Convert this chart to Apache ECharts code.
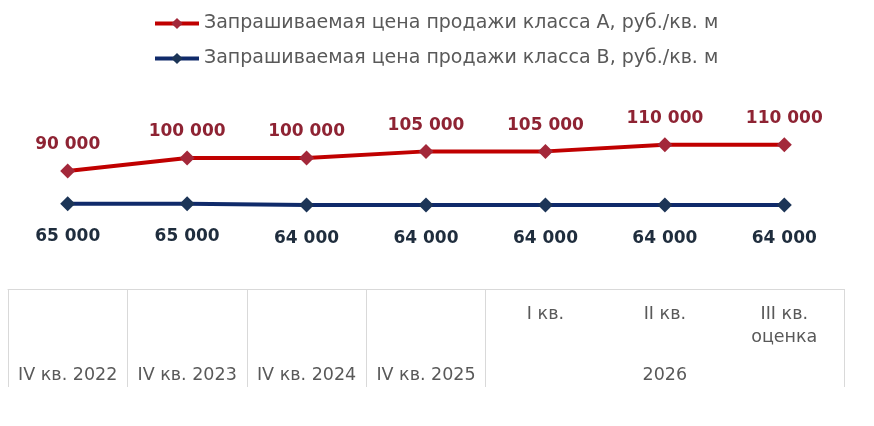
<!DOCTYPE html>
<html>
<head>
<meta charset="utf-8">
<script src="https://cdn.jsdelivr.net/npm/echarts@6/dist/echarts.min.js"></script>
<style>
  html, body { margin: 0; padding: 0; background: #fff; }
  #main { width: 874px; height: 426px; }
</style>
</head>
<body>
<div id="main"></div>
<script>
    // данные
    var categories = ['IV кв. 2022', 'IV кв. 2023', 'IV кв. 2024', 'IV кв. 2025', 'I кв.', 'II кв.', 'III кв.\nоценка'];
    var groupYear = '2026';       // подпись группы под I–III кв.
    var groupStart = 4;           // с какой категории начинается группа
    var groupLabelAt = 5;         // где стоит подпись группы
    var nameA = 'Запрашиваемая цена продажи класса А, руб./кв. м';
    var nameB = 'Запрашиваемая цена продажи класса В, руб./кв. м';
    var classA = [90000, 100000, 100000, 105000, 105000, 110000, 110000];
    var classB = [65000, 65000, 64000, 64000, 64000, 64000, 64000];

    function fmt(v) {
        return String(v).replace(/\B(?=(\d{3})+(?!\d))/g, ' ');
    }

    var myChart = echarts.init(document.getElementById('main'));
    var option = {
        animation: false,
        backgroundColor: '#fff',
        legend: {
            orient: 'vertical',
            left: 148,
            top: 9,
            itemWidth: 44,
            itemHeight: 14,
            itemGap: 16,
            lineStyle: { width: 4 },
            textStyle: { color: '#595959', fontSize: 19, fontFamily: 'DejaVu Sans' },
            data: [nameA, nameB]
        },
        grid: { left: 8, right: 30, top: 105.5, bottom: 137 },
        xAxis: [
            {
                type: 'category',
                data: categories,
                boundaryGap: true,
                axisLine: { show: true, lineStyle: { color: '#d9d9d9', width: 1 } },
                axisTick: {
                    show: true,
                    length: 98,
                    interval: function (i) { return i <= groupStart; },
                    lineStyle: { color: '#d9d9d9', width: 1 }
                },
                axisLabel: {
                    interval: 0,
                    margin: 14,
                    color: '#595959',
                    fontSize: 17.5,
                    lineHeight: 23,
                    fontFamily: 'DejaVu Sans',
                    formatter: function (v, i) { return i >= groupStart ? v : ''; }
                }
            },
            {
                type: 'category',
                data: categories,
                position: 'bottom',
                offset: 77,
                axisLine: { show: false },
                axisTick: { show: false },
                axisLabel: {
                    interval: 0,
                    margin: 0,
                    color: '#595959',
                    fontSize: 17.5,
                    fontFamily: 'DejaVu Sans',
                    formatter: function (v, i) {
                        if (i < groupStart) return v;
                        return i === groupLabelAt ? groupYear : '';
                    }
                }
            }
        ],
        yAxis: {
            type: 'value',
            min: 0,
            max: 140000,
            show: false,
            splitLine: { show: false }
        },
        series: [
            {
                name: nameA,
                type: 'line',
                data: classA,
                symbol: 'diamond',
                symbolSize: 15,
                lineStyle: { color: '#c00000', width: 4 },
                itemStyle: { color: '#a3283a' },
                label: {
                    show: true,
                    position: 'top',
                    distance: 10,
                    color: '#8e2333',
                    fontSize: 17,
                    fontWeight: 'bold',
                    fontFamily: 'DejaVu Sans',
                    formatter: function (p) { return fmt(p.value); }
                }
            },
            {
                name: nameB,
                type: 'line',
                data: classB,
                symbol: 'diamond',
                symbolSize: 15,
                lineStyle: { color: '#102a6a', width: 4 },
                itemStyle: { color: '#1c3557' },
                label: {
                    show: true,
                    position: 'bottom',
                    distance: 17,
                    color: '#1f2d3d',
                    fontSize: 17,
                    fontWeight: 'bold',
                    fontFamily: 'DejaVu Sans',
                    formatter: function (p) { return fmt(p.value); }
                }
            }
        ]
    };
    myChart.setOption(option);
</script>
</body>
</html>
